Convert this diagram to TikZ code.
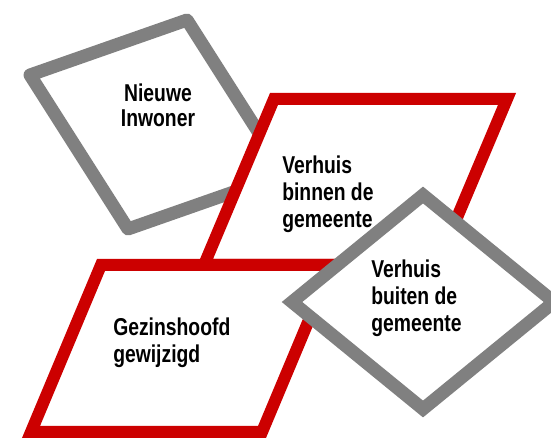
\documentclass[tikz,border=0pt]{standalone}
\usepackage{xcolor}
\usepackage{graphicx}
\usepackage{fontspec}
\setmainfont{Liberation Sans}

\definecolor{boxred}{HTML}{CC0000}
\definecolor{boxgray}{HTML}{808080}
\newcommand{\tallText}[2][l]{\scalebox{1}[1.26]{\begin{tabular}[t]{@{}#1@{}}#2\end{tabular}}}

\begin{document}
\begin{tikzpicture}[x=0.75pt, y=-0.75pt,
  redbox/.style={draw=boxred, fill=white, line width=9pt},
  graybox/.style={draw=boxgray, fill=white, line width=9.75pt},
  txt/.style={font=\bfseries\fontsize{14.5}{#1}\selectfont, inner sep=0pt},
  txt/.default=16]

\useasboundingbox (0,0) rectangle (551,438);

% Shapes
\draw[graybox, line join=round] (30,75) -- (187,20) -- (285,174) -- (128,229) -- cycle;
\draw[redbox] (274,99) -- (507,99) -- (437,265) -- (204,265) -- cycle;
\draw[redbox] (101,265) -- (332,265) -- (262,432) -- (31,432) -- cycle;
\draw[graybox] (292,302) -- (423,195) -- (554,302) -- (423,409) -- cycle;

% Nodes
\node[txt=15, anchor=base] (inwoner) at (158,101.7) {\tallText[c]{Nieuwe\\Inwoner}};
\node[txt, anchor=base west] (binnen) at (282,173.3) {\tallText{Verhuis\\binnen de\\gemeente}};
\node[txt, anchor=base west] (buiten) at (371,278) {\tallText{Verhuis\\buiten de\\gemeente}};
\node[txt, anchor=base west] (hoofd) at (113,336) {\tallText{Gezinshoofd\\gewijzigd}};

\end{tikzpicture}
\end{document}
